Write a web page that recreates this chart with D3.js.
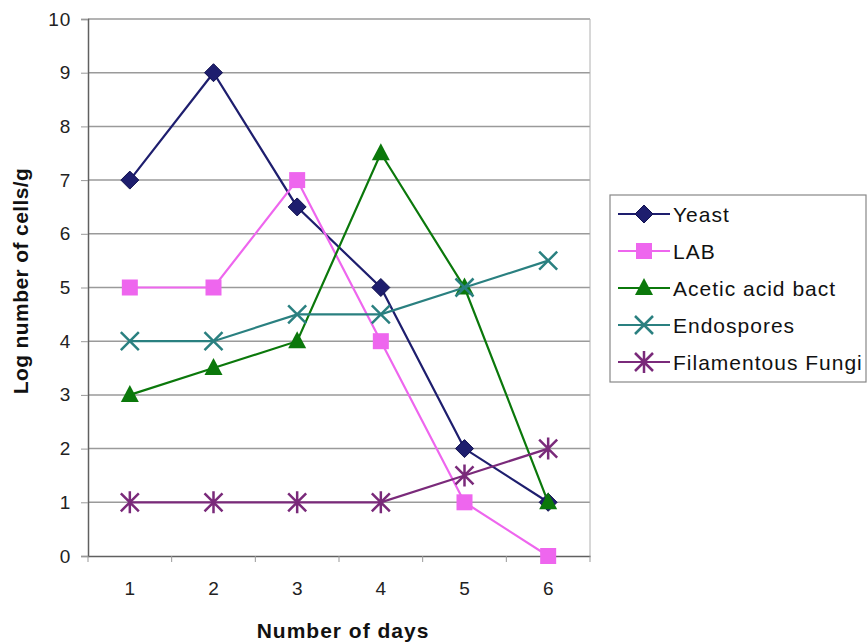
<!DOCTYPE html>
<html><head><meta charset="utf-8">
<script src="https://cdn.jsdelivr.net/npm/d3@7"></script>
<style>body{margin:0;background:#fff}</style>
</head><body>
<svg id="c" width="867" height="642"></svg>
<script>
const days = ["1","2","3","4","5","6"];
const yTicks = [0,1,2,3,4,5,6,7,8,9,10];
const yeast = [7, 9, 6.5, 5, 2, 1];
const lab = [5, 5, 7, 4, 1, 0];
const acetic = [3, 3.5, 4, 7.5, 5, 1];
const endospores = [4, 4, 4.5, 4.5, 5, 5.5];
const fungi = [1, 1, 1, 1, 1.5, 2];
const seriesNames = ["Yeast","LAB","Acetic acid bact","Endospores","Filamentous Fungi"];
const seriesColors = ["#1e1e6e","#ee66ee","#0b780b","#2a8080","#7a2a7a"];
const seriesShapes = ["diamond","square","triangle","x","star"];
const series = [yeast, lab, acetic, endospores, fungi];

const svg = d3.select("#c");
const m = {l:88, r:590, t:19, b:556};
const x = d3.scaleBand().domain(days).range([m.l, m.r]);
const y = d3.scaleLinear().domain([0,10]).range([m.b, m.t]);
const font = "Arial, 'Liberation Sans', sans-serif";

// gridlines
svg.append("g").selectAll("line").data(yTicks.filter(d=>d>0)).join("line")
  .attr("x1", m.l).attr("x2", m.r).attr("y1", d=>y(d)).attr("y2", d=>y(d))
  .attr("stroke", "#9a9a9a").attr("stroke-width", 1.5);
svg.append("line").attr("x1",m.r).attr("x2",m.r).attr("y1",m.t).attr("y2",m.b)
  .attr("stroke","#b0b0b0").attr("stroke-width",1);

// y axis
const ya = svg.append("g").attr("transform",`translate(${m.l},0)`)
  .call(d3.axisLeft(y).tickValues(yTicks).tickSize(7).tickPadding(10));
ya.select(".domain").attr("stroke","#606060").attr("stroke-width",1.5);
ya.selectAll(".tick line").attr("stroke","#999");
ya.selectAll("text").attr("font-family",font).attr("font-size",19).attr("fill","#222")
  .attr("letter-spacing","0.8px");

// x axis
const xa = svg.append("g").attr("transform",`translate(0,${m.b})`)
  .call(d3.axisBottom(x).tickSize(0).tickPadding(26));
xa.select(".domain").attr("stroke","#606060").attr("stroke-width",1.5);
xa.selectAll("text").attr("font-family",font).attr("font-size",19).attr("fill","#222");
const bounds = days.map(d=>x(d)).concat([m.r]);
xa.append("g").selectAll("line").data(bounds).join("line")
  .attr("x1",d=>d).attr("x2",d=>d).attr("y1",0).attr("y2",6)
  .attr("stroke","#999");

// axis titles
svg.append("text").attr("x", 343).attr("y", 638).attr("text-anchor","middle")
  .attr("font-family",font).attr("font-size",21).attr("font-weight","bold").attr("fill","#111")
  .attr("letter-spacing","1px")
  .text("Number of days");
svg.append("text").attr("transform","translate(28,281) rotate(-90)").attr("text-anchor","middle")
  .attr("font-family",font).attr("font-size",21).attr("font-weight","bold").attr("fill","#111")
  .attr("letter-spacing","0.4px")
  .text("Log number of cells/g");

function marker(g, shape, color){
  if(shape==="diamond"){
    g.append("path").attr("d","M0,-9L9,0L0,9L-9,0Z").attr("fill",color).attr("stroke","#111150").attr("stroke-width",1);
  } else if(shape==="square"){
    g.append("rect").attr("x",-8).attr("y",-8).attr("width",16).attr("height",16).attr("fill",color);
  } else if(shape==="triangle"){
    g.append("path").attr("d","M0,-10L9,7L-9,7Z").attr("fill",color);
  } else if(shape==="x"){
    g.append("path").attr("d","M-9,-9L9,9M-9,9L9,-9").attr("stroke",color).attr("stroke-width",2.5).attr("fill","none");
  } else {
    g.append("path").attr("d","M-9,-9L9,9M-9,9L9,-9M0,-11L0,11").attr("stroke",color).attr("stroke-width",2.5).attr("fill","none");
  }
}

const line = d3.line().x((d,i)=>x(days[i])+x.bandwidth()/2).y(d=>y(d));
series.forEach((vals, si)=>{
  const g = svg.append("g");
  g.append("path").attr("d", line(vals)).attr("fill","none")
    .attr("stroke", seriesColors[si]).attr("stroke-width", 2.2);
  vals.forEach((v,i)=>{
    const mg = g.append("g").attr("transform",`translate(${x(days[i])+x.bandwidth()/2},${y(v)})`);
    marker(mg, seriesShapes[si], seriesColors[si]);
  });
});

// legend
const lg = svg.append("g");
lg.append("rect").attr("x",610).attr("y",195).attr("width",256).attr("height",187)
  .attr("fill","#fff").attr("stroke","#888").attr("stroke-width",1.2);
seriesNames.forEach((n,i)=>{
  const yy = 214 + i*37;
  lg.append("line").attr("x1",618).attr("x2",670).attr("y1",yy).attr("y2",yy)
    .attr("stroke",seriesColors[i]).attr("stroke-width",2.2);
  const mg = lg.append("g").attr("transform",`translate(644,${yy})`);
  marker(mg, seriesShapes[i], seriesColors[i]);
  lg.append("text").attr("x",673).attr("y",yy+8).attr("font-family",font)
    .attr("font-size",21).attr("letter-spacing","1px").attr("fill","#111").text(n);
});
</script>
</body></html>
